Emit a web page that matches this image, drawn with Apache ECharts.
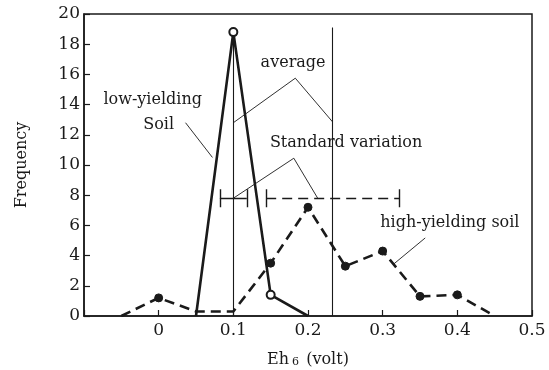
<!DOCTYPE html>
<html><head><meta charset="utf-8">
<script src="https://cdn.jsdelivr.net/npm/echarts@6/dist/echarts.min.js"></script>
<style>html,body{margin:0;padding:0;background:#fff}#c{width:549px;height:370px}</style>
</head><body><div id="c"></div>
<script>
// ---- data ----
const eh = [-0.05, 0, 0.05, 0.1, 0.15, 0.2, 0.25, 0.3, 0.35, 0.4, 0.45];
const highFreq = [0, 1.2, 0.3, 0.3, 3.5, 7.2, 3.3, 4.3, 1.3, 1.4, 0];
const highMarked = [false, true, false, false, true, true, true, true, true, true, false];
const lowEh = [0.05, 0.1, 0.15, 0.2];
const lowFreq = [0, 18.8, 1.4, 0];
const lowMarked = [false, true, true, false];
const averages = [0.1, 0.233];
const averageTops = [18.4, 19.1];
const stdDev = [0.018, 0.089];
const sdLevel = 7.8;
const xTickLabels = ['0', '0.1', '0.2', '0.3', '0.4', '0.5'];
const yTickLabels = ['0','2','4','6','8','10','12','14','16','18','20'];

const INK = '#1a1a1a';
const FONT = 'DejaVu Serif';

const highData = eh.map((x, i) => ({
  value: [x, highFreq[i]],
  symbol: highMarked[i] ? 'circle' : 'none',
  symbolSize: 8
}));
const lowData = lowEh.map((x, i) => ({
  value: [x, lowFreq[i]],
  symbol: lowMarked[i] ? 'emptyCircle' : 'none',
  symbolSize: 8
}));

const avgLines = averages.map((m, i) => ({ coords: [[m, 0], [m, averageTops[i]]] }));
function sdSpan(m, s, y) { return [{ coords: [[m - s, y], [m + s, y]] }]; }
function sdEnds(m, s, y) {
  const h = 0.6;
  return [
    { coords: [[m - s, y - h], [m - s, y + h]] },
    { coords: [[m + s, y - h], [m + s, y + h]] }
  ];
}

const leaderLines = [
  { coords: [[averages[0], 12.8], [0.183, 15.75]] },
  { coords: [[0.183, 15.75], [averages[1], 12.85]] },
  { coords: [[averages[0], sdLevel], [0.181, 10.45]] },
  { coords: [[0.181, 10.45], [0.213, sdLevel]] },
  { coords: [[0.036, 12.8], [0.072, 10.5]] },
  { coords: [[0.357, 5.17], [0.315, 3.45]] }
];

const notes = [
  { name: 'average', value: [0.18, 16.75] },
  { name: 'low-yielding', value: [-0.008, 14.3] },
  { name: 'Soil', value: [0.0, 12.65] },
  { name: 'Standard variation', value: [0.251, 11.46] },
  { name: 'high-yielding soil', value: [0.39, 6.2] }
];

const chart = echarts.init(document.getElementById('c'));
chart.setOption({
  animation: false,
  backgroundColor: '#fff',
  grid: { left: 84, right: 17, top: 14, bottom: 54, containLabel: false, outerBoundsMode: 'none',
    show: true, borderColor: INK, borderWidth: 1.5, backgroundColor: 'transparent' },
  xAxis: {
    type: 'value', min: -0.1, max: 0.5, interval: 0.1,
    name: '{a|Eh}{s|6}{a| (volt)}', nameLocation: 'middle', nameGap: 36,
    nameTextStyle: { rich: {
      a: { fontFamily: FONT, fontSize: 16, color: INK },
      s: { fontFamily: FONT, fontSize: 11, color: INK, padding: [5, 2, 0, 3] }
    } },
    axisLine: { show: true, onZero: false, lineStyle: { color: INK, width: 1.5 } },
    axisTick: { show: true, inside: true, length: 6, lineStyle: { color: INK, width: 1.2 } },
    axisLabel: { fontFamily: FONT, fontSize: 17, color: INK, margin: 6,
      formatter: (v, idx) => idx === 0 ? '' : xTickLabels[idx - 1] },
    splitLine: { show: false }
  },
  yAxis: {
    type: 'value', min: 0, max: 20, interval: 2,
    name: 'Frequency', nameLocation: 'middle', nameGap: 54, nameRotate: 90,
    nameTextStyle: { fontFamily: FONT, fontSize: 16, color: INK },
    axisLine: { show: true, onZero: false, lineStyle: { color: INK, width: 1.5 } },
    axisTick: { show: true, inside: true, length: 6, lineStyle: { color: INK, width: 1.2 } },
    axisLabel: { fontFamily: FONT, fontSize: 17, color: INK, margin: 4,
      formatter: (v, idx) => yTickLabels[idx] },
    splitLine: { show: false }
  },
  series: [
    { type: 'lines', coordinateSystem: 'cartesian2d', silent: true, z: 1,
      lineStyle: { color: INK, width: 1.1, opacity: 1 }, data: avgLines },
    { type: 'lines', coordinateSystem: 'cartesian2d', silent: true, z: 1,
      lineStyle: { color: INK, width: 0.9, opacity: 1 }, data: leaderLines },
    { type: 'lines', coordinateSystem: 'cartesian2d', silent: true, z: 2,
      lineStyle: { color: INK, width: 1.4, opacity: 1 },
      data: sdSpan(averages[0], stdDev[0], sdLevel).concat(sdEnds(averages[0], stdDev[0], sdLevel), sdEnds(averages[1], stdDev[1], sdLevel)) },
    { type: 'lines', coordinateSystem: 'cartesian2d', silent: true, z: 2,
      lineStyle: { color: INK, width: 1.4, opacity: 1, type: [10, 6] }, data: sdSpan(averages[1], stdDev[1], sdLevel) },
    { name: 'low-yielding soil', type: 'line', z: 3, data: lowData,
      lineStyle: { color: INK, width: 2.6 },
      itemStyle: { color: INK, borderColor: INK, borderWidth: 1.8 } },
    { name: 'high-yielding soil', type: 'line', z: 3, data: highData,
      lineStyle: { color: INK, width: 2.6, type: [10, 6] },
      itemStyle: { color: INK, borderColor: INK } },
    { type: 'scatter', silent: true, symbolSize: 0, z: 5, data: notes,
      itemStyle: { opacity: 1 },
      label: { show: true, position: 'inside', formatter: '{b}', fontFamily: FONT, fontSize: 16, color: INK } }
  ]
});
</script></body></html>
